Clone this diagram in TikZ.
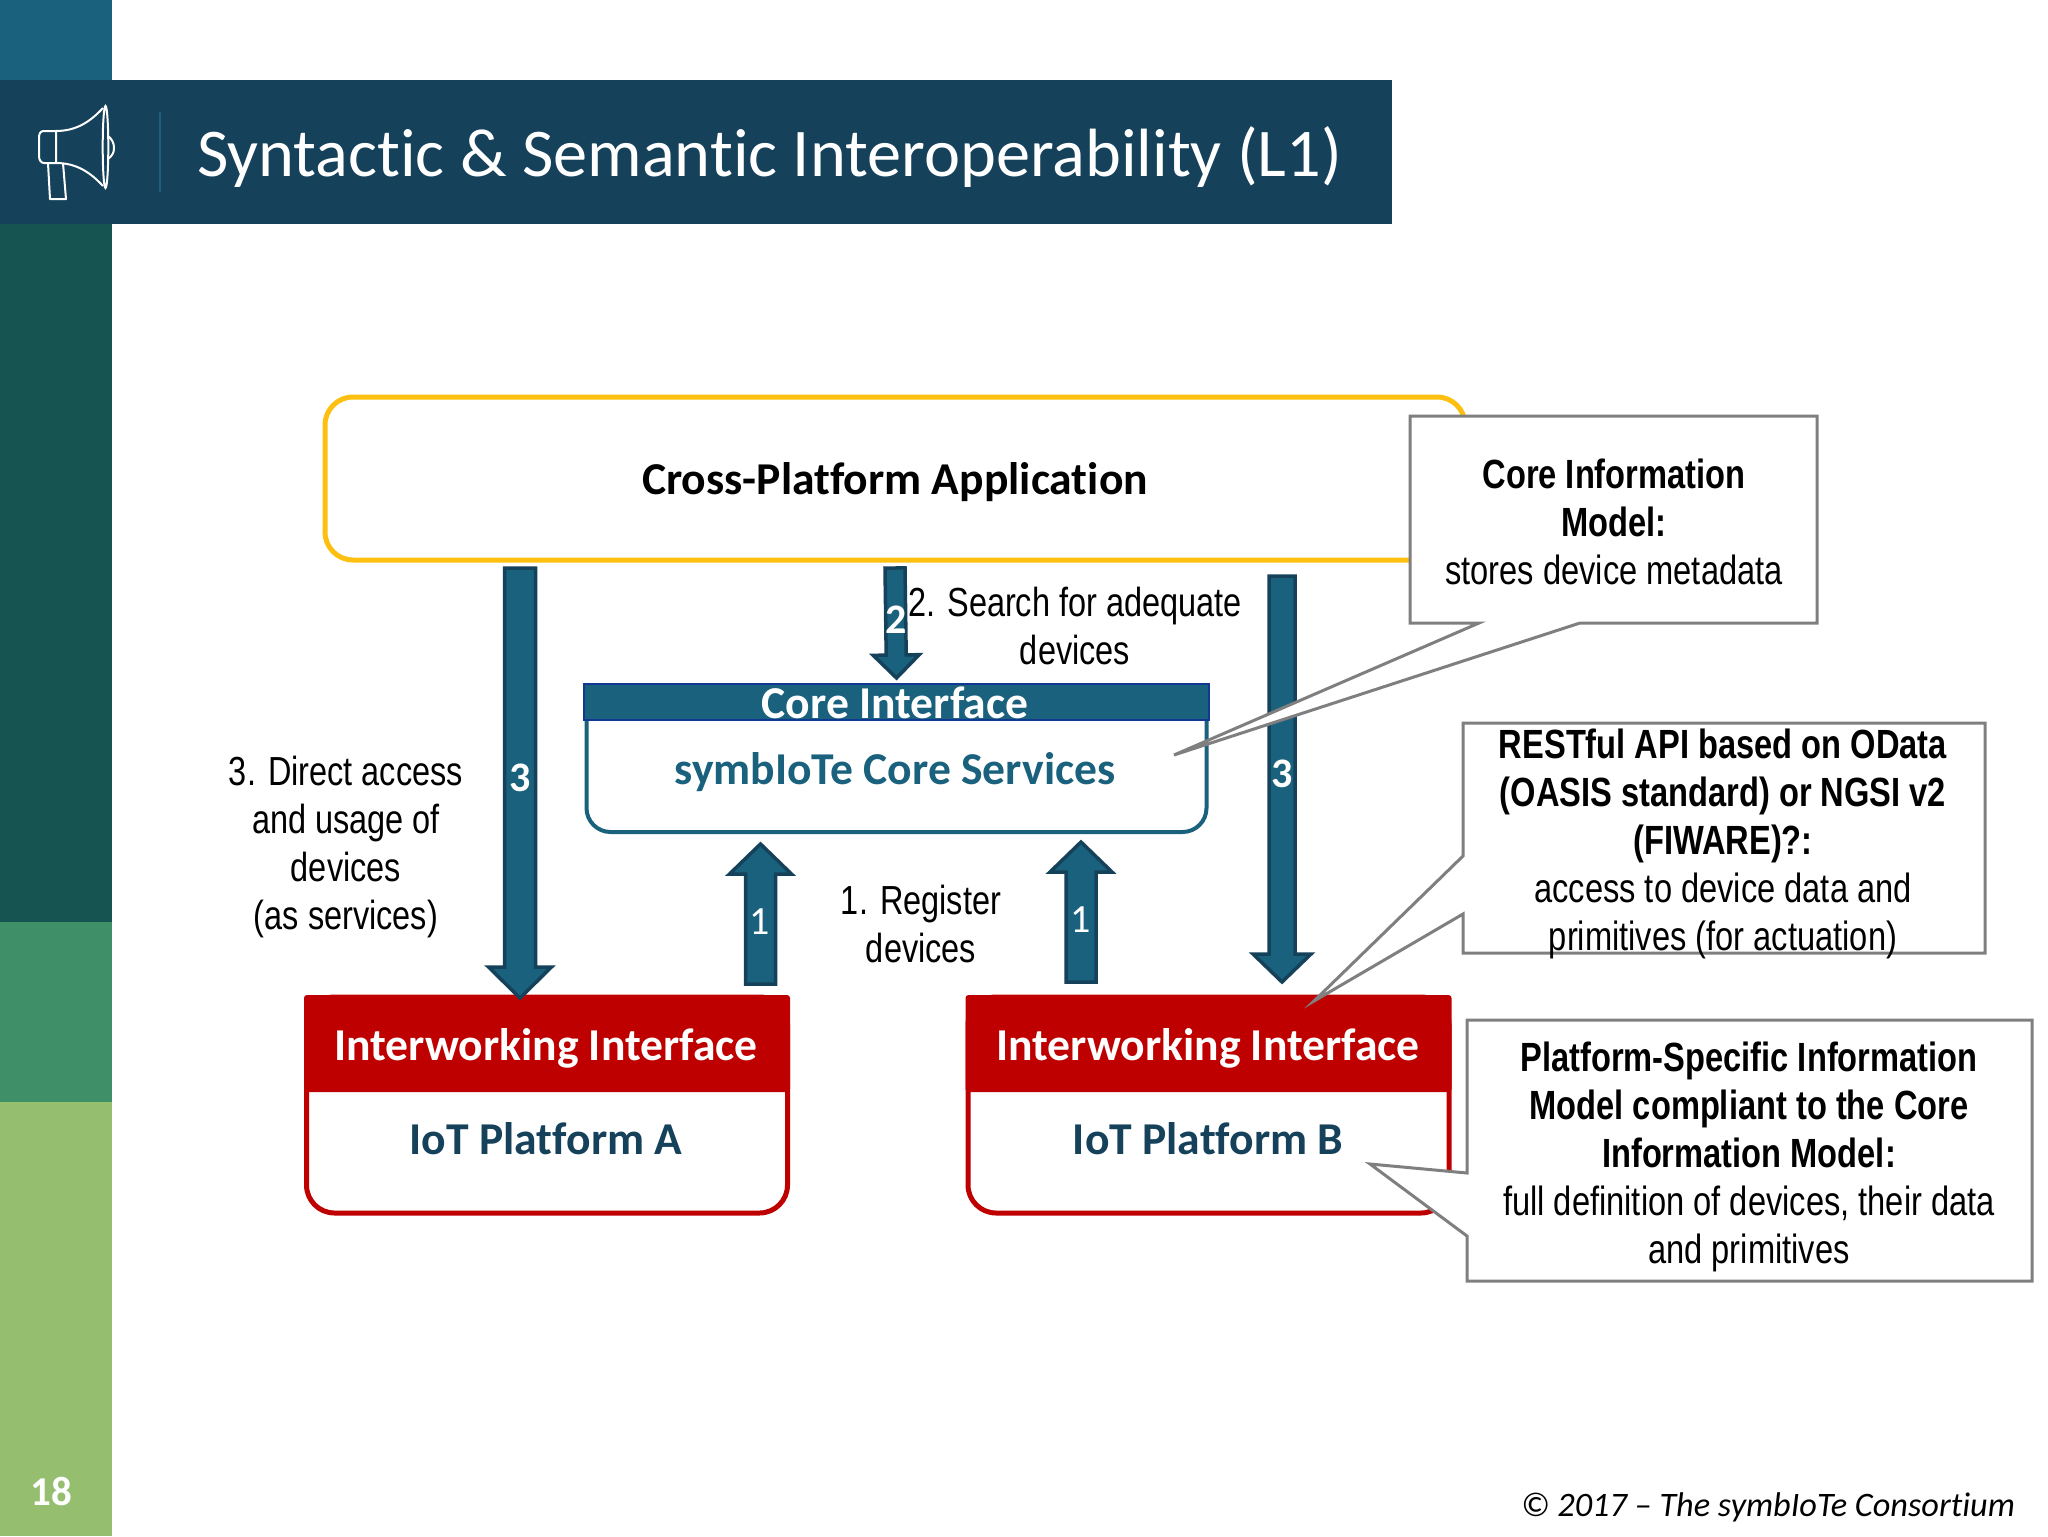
\documentclass[tikz,border=0pt]{standalone}
\usepackage{fontspec}
\setmainfont{Carlito}[Ligatures=NoCommon]
\newfontfamily\narrowfont[FakeStretch=0.8]{Liberation Sans}
\usetikzlibrary{calc}

\definecolor{teal1}{HTML}{1A617D}
\definecolor{navy1}{HTML}{15415A}
\definecolor{green1}{HTML}{155450}
\definecolor{green2}{HTML}{3F9068}
\definecolor{green3}{HTML}{95BF6F}
\definecolor{appyellow}{HTML}{FDC010}
\definecolor{platred}{HTML}{BF0000}
\definecolor{calloutgray}{HTML}{7F7F7F}

\tikzset{
  txt/.style={inner sep=0pt, outer sep=0pt, align=center},
  carlito/.style={txt, font=\fontsize{#1}{#1}\selectfont\bfseries},
  plain/.style={txt, font=\narrowfont\fontsize{20.3}{24}\selectfont},
  barnum/.style={txt, text=white, font=\fontsize{20}{20}\selectfont},
  barnumb/.style={txt, text=white, font=\fontsize{21}{21}\selectfont\bfseries},
  callout/.style={draw=calloutgray, line width=1.5pt, fill=white, line join=miter},
  calltext/.style={txt, font=\narrowfont\fontsize{20.4}{24}\selectfont},
  platbody/.style={draw=platred, line width=2.5pt, fill=white, rounded corners=14pt,
    minimum width=240.5pt, minimum height=108pt, outer sep=0pt},
  plathead/.style={fill=platred, rounded corners=1.5pt, outer sep=0pt, inner sep=0pt,
    minimum width=243pt, minimum height=48.5pt},
  % block arrow: half shaft width, half head width, head length
  blockarrow/.style n args={3}{draw=navy1, fill=teal1, line width=1.75pt, line join=miter,
    to path={
      -- ($(\tikztostart)!#1!90:(\tikztotarget)$)
      -- ($($(\tikztotarget)!#3!(\tikztostart)$)!#1!90:(\tikztotarget)$)
      -- ($($(\tikztotarget)!#3!(\tikztostart)$)!#2!90:(\tikztotarget)$)
      -- (\tikztotarget)
      -- ($($(\tikztotarget)!#3!(\tikztostart)$)!#2!-90:(\tikztotarget)$)
      -- ($($(\tikztotarget)!#3!(\tikztostart)$)!#1!-90:(\tikztotarget)$)
      -- ($(\tikztostart)!#1!-90:(\tikztotarget)$)
      -- cycle}},
}

\begin{document}
\begin{tikzpicture}[x=0.5pt,y=-0.5pt]
\useasboundingbox (0,0) rectangle (2048,1536);

% side strip
\fill[teal1] (0,0) rectangle (112,80);
\fill[green1] (0,224) rectangle (112,922);
\fill[green2] (0,922) rectangle (112,1102);
\fill[green3] (0,1102) rectangle (112,1536);

% title band
\fill[navy1] (0,80) rectangle (1392,224);
\draw[teal1, line width=1pt] (160,112) -- (160,192);
\node[txt, anchor=west, text=white, font=\fontsize{34.15}{34.15}\selectfont] (title) at (197,157)
  {Syntactic \& Semantic Interoperability (L1)};
% megaphone
\draw[white, line width=1pt, line join=round]
  (56,131) -- (44,131) .. controls (40,131) and (39,134) .. (39,138) -- (39,156)
  .. controls (39,160) and (41,163) .. (44,163) -- (56,163) -- cycle
  (56,131) .. controls (76,131) and (90,122) .. (103,108)
  (56,163) .. controls (76,163) and (90,172) .. (103,186)
  (48,163) -- (50,199) -- (66,199) -- (63,163)
  (108,136) .. controls (112,139) and (114,143) .. (114,148) .. controls (114,153) and (112,156) .. (108,159);
\draw[white, line width=1pt] (105.5,147) ellipse [x radius=2.8, y radius=41];

% application
\node[draw=appyellow, line width=2.5pt, fill=white, rounded corners=14pt, outer sep=0pt,
  minimum width=570pt, minimum height=81.5pt] (app) at (895,478.5) {};
\node[carlito=22.8] (apptext) at (895,482.5) {Cross-Platform Application};

% core
\node[draw=teal1, line width=2pt, fill=white, rounded corners=12pt, outer sep=0pt,
  minimum width=310pt, minimum height=72pt] (core) at (896.5,760) {};
\node[fill=teal1, draw=navy1!60!blue!70!teal1, line width=1pt, outer sep=0pt, inner sep=0pt,
  minimum width=312.5pt, minimum height=18pt] (corehead) at (896.5,702) {};
\node[carlito=22.8, text=white] (coretext) at (895,703) {Core Interface};
\node[carlito=22.8, text=teal1] (coreserv) at (895,772) {symbIoTe Core Services};

% platforms
\node[platbody] (bodyA) at (547,1105) {};
\node[plathead] (ifA) at (547,1043.5) {};
\node[carlito=22.8, text=white] (ifAtext) at (546,1048.5) {Interworking Interface};
\node[carlito=22.8, text=navy1] (iotA) at (546,1139) {IoT Platform A};
\node[platbody] (bodyB) at (1208.5,1105) {};
\node[plathead] (ifB) at (1208.5,1043.5) {};
\node[carlito=22.8, text=white] (ifBtext) at (1208,1048.5) {Interworking Interface};
\node[carlito=22.8, text=navy1] (iotB) at (1208,1139) {IoT Platform B};

% arrows
\coordinate (xa) at (520,0);
\coordinate (xb) at (1282,0);
\coordinate (xc) at (760.5,0);
\coordinate (xd) at (1081,0);
\coordinate (a3s) at ([yshift=-4pt]app.south -| xa);
\coordinate (a3e) at ([yshift=-1.5pt]ifA.north -| xa);
\coordinate (a2s) at ([yshift=-4pt]app.south);
\coordinate (a2e) at ([yshift=3pt]corehead.north);
\coordinate (b3s) at ([yshift=-8pt]app.south -| xb);
\coordinate (b3e) at ([yshift=6.5pt]ifB.north -| xb);
\coordinate (a1s) at ([yshift=5.5pt]ifA.north -| xc);
\coordinate (a1e) at ([yshift=-6pt]core.south -| xc);
\coordinate (b1s) at ([yshift=6.5pt]ifB.north -| xd);
\coordinate (b1e) at ([yshift=-5pt]core.south -| xd);
\draw[blockarrow={7.75pt}{15.75pt}{15.5pt}] (a3s) to (a3e);
\draw[blockarrow={5pt}{11.5pt}{11.5pt}] (a2s) to (a2e);
\draw[blockarrow={6.5pt}{14.5pt}{14pt}] (b3s) to (b3e);
\draw[blockarrow={7.5pt}{15.5pt}{15pt}] (a1s) to (a1e);
\draw[blockarrow={7.5pt}{15.5pt}{15pt}] (b1s) to (b1e);
\node[barnumb] (n3a) at (520,778) {3};
\node[barnumb] (n2) at (896,620) {2};
\node[barnumb] (n3b) at (1282,774) {3};
\node[barnum] (n1a) at (760,922) {1};
\node[barnum] (n1b) at (1081,920) {1};

% plain labels
\node[plain] (l3) at (346,847) {3. Direct access\\and usage of\\devices\\(as services)};
\node[plain] (l2) at (1075,626) {2. Search for adequate\\devices};
\node[plain] (l1) at (921,924) {1. Register\\devices};

% callouts
\draw[callout] (1410,416) -- (1817,416) -- (1817,623) -- (1580,623) -- (1174,755)
  -- (1479,623) -- (1410,623) -- cycle;
\node[calltext] (c1) at (1614,522) {\textbf{Core Information}\\\textbf{Model:}\\stores device metadata};
\draw[callout] (1463,723) -- (1985,723) -- (1985,953) -- (1463,953) -- (1463,914)
  -- (1314,1001) -- (1463,856) -- cycle;
\node[calltext] (c2) at (1723,844) {\textbf{RESTful API based on OData}\\\textbf{(OASIS standard) or NGSI v2}\\\textbf{(FIWARE)?:}\\access to device data and\\primitives (for actuation)};
\draw[callout] (1467,1020) -- (2032,1020) -- (2032,1281) -- (1467,1281) -- (1467,1236)
  -- (1370,1164) -- (1467,1173) -- cycle;
\node[calltext] (c3) at (1749,1156.5) {\textbf{Platform-Specific Information}\\\textbf{Model compliant to the Core}\\\textbf{Information Model:}\\full definition of devices, their data\\and primitives};

% page number and footer
\node[carlito=20.5, text=white] (page) at (51,1491) {18};
\node[txt, anchor=east, font=\fontsize{17.15}{17.15}\selectfont\itshape] (foot) at (2015,1507)
  {© 2017 -- The symbIoTe Consortium};
\end{tikzpicture}
\end{document}
